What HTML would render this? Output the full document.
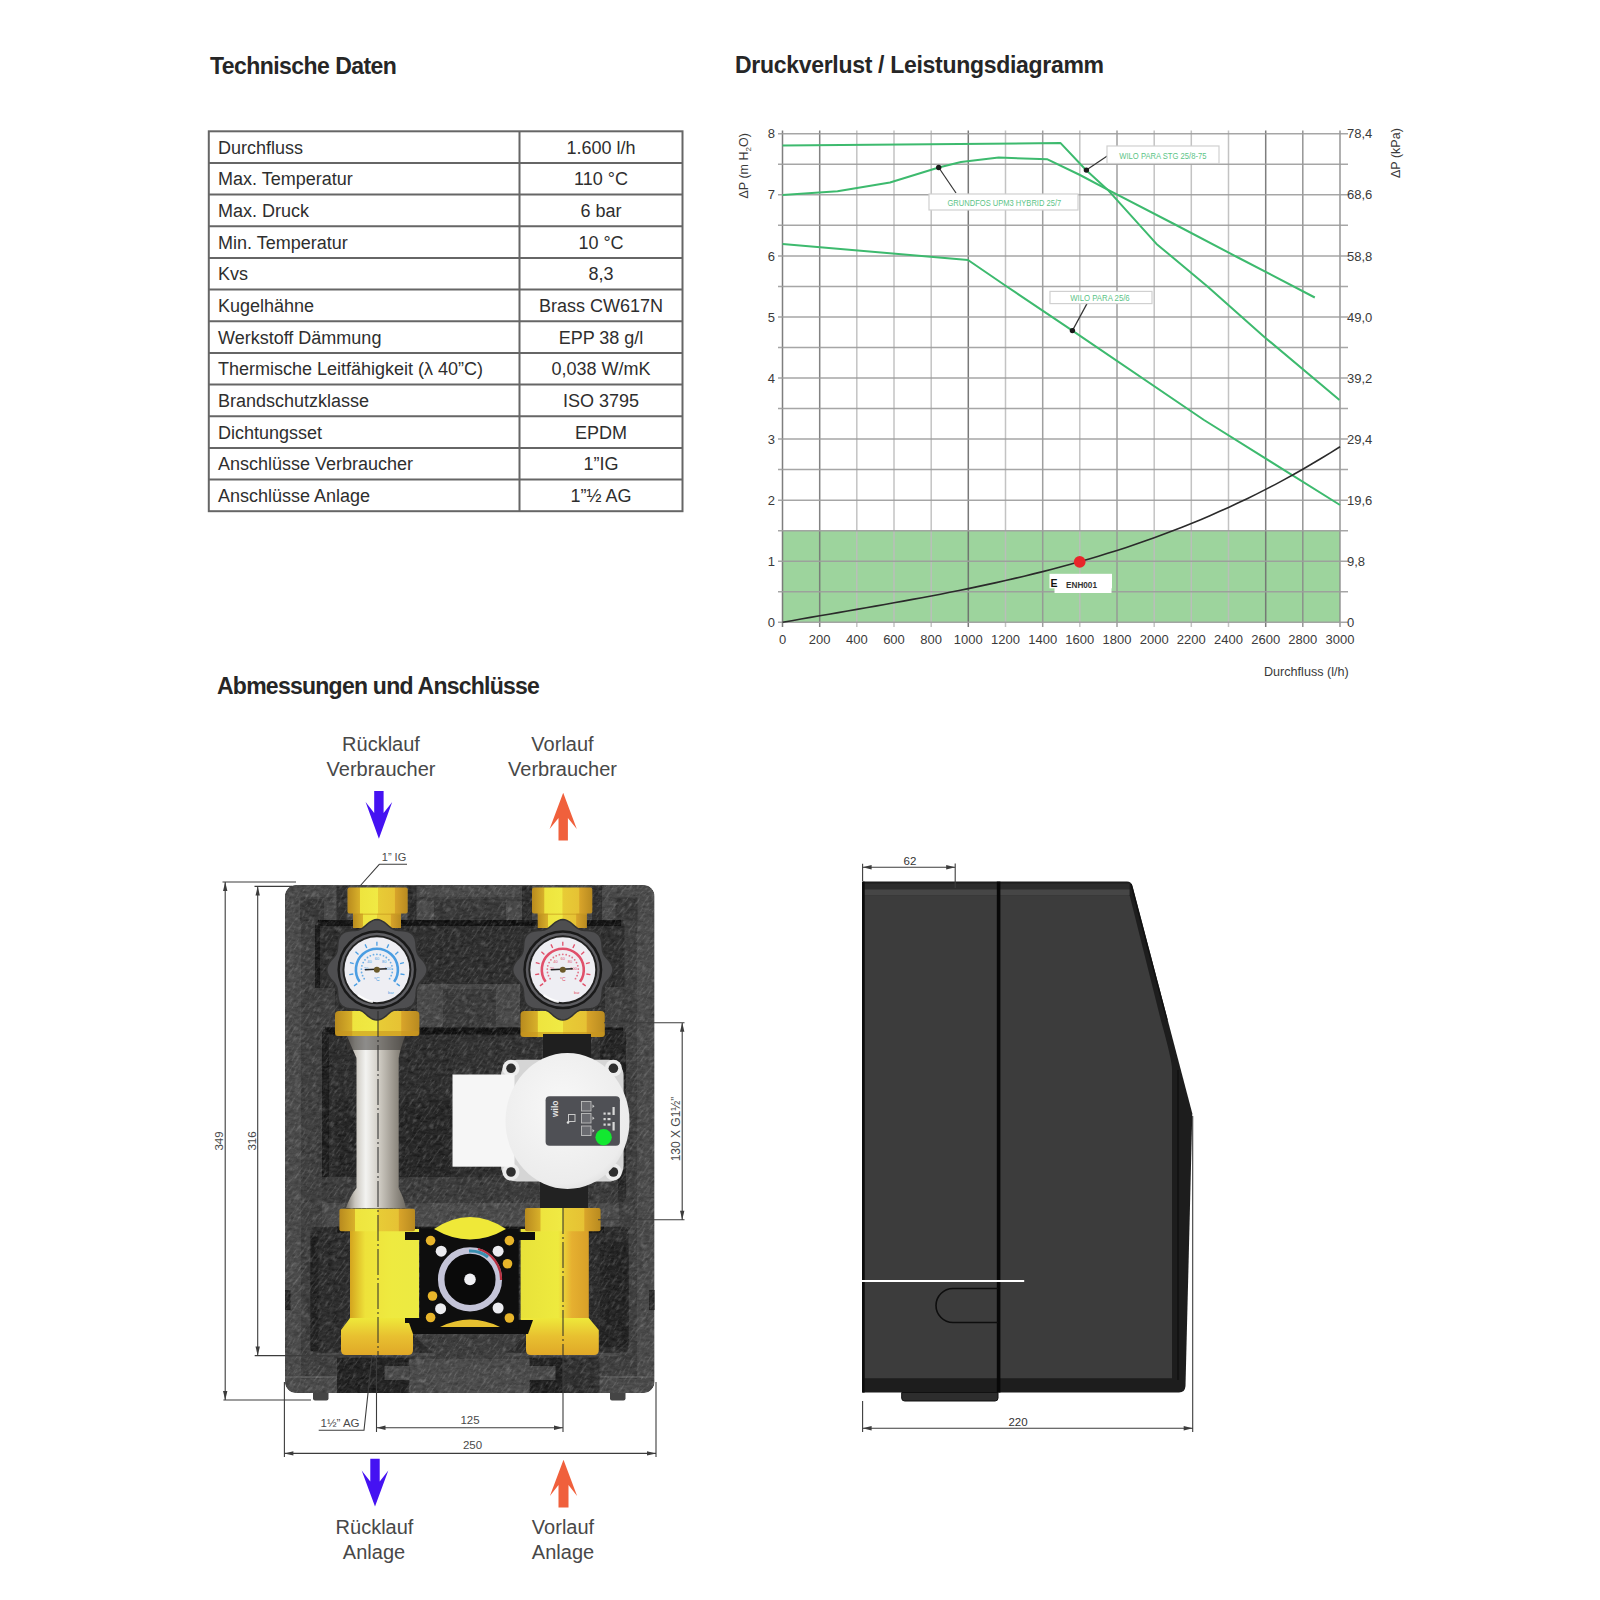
<!DOCTYPE html>
<html><head><meta charset="utf-8"><title>Technische Daten</title>
<style>
html,body{margin:0;padding:0;background:#fff;}
body{width:1600px;height:1600px;overflow:hidden;position:relative;font-family:"Liberation Sans",sans-serif;}
svg{position:absolute;left:0;top:0;}
text{font-family:"Liberation Sans",sans-serif;}
</style></head><body>
<svg width="1600" height="1600" viewBox="0 0 1600 1600">
<defs>
<filter id="foam" x="0" y="0" width="100%" height="100%" color-interpolation-filters="sRGB">
<feTurbulence type="fractalNoise" baseFrequency="0.18 0.35" numOctaves="3" seed="7" result="t"/>
<feColorMatrix in="t" type="matrix" values="0.5 0.5 0 0 0  0.5 0.5 0 0 0  0.5 0.5 0 0 0  0 0 0 0 1" result="g"/>
<feComposite in="SourceGraphic" in2="g" operator="arithmetic" k1="0" k2="1" k3="0.22" k4="-0.11" result="b"/>
<feComposite in="b" in2="SourceGraphic" operator="in"/>
</filter>
</defs>

<g fill="#262626" font-weight="bold" font-size="23">
<text x="210" y="74" letter-spacing="-0.55">Technische Daten</text>
<text x="735" y="72.5" letter-spacing="-0.3">Druckverlust / Leistungsdiagramm</text>
<text x="217" y="694" letter-spacing="-0.75">Abmessungen und Anschlüsse</text>
</g>
<g stroke="#666" stroke-width="2" fill="none">
<rect x="208.8" y="131.3" width="473.7" height="379.9"/>
<line x1="519.5" y1="131.3" x2="519.5" y2="511.2"/>
<line x1="208.8" y1="163.0" x2="682.5" y2="163.0"/>
<line x1="208.8" y1="194.6" x2="682.5" y2="194.6"/>
<line x1="208.8" y1="226.3" x2="682.5" y2="226.3"/>
<line x1="208.8" y1="257.9" x2="682.5" y2="257.9"/>
<line x1="208.8" y1="289.6" x2="682.5" y2="289.6"/>
<line x1="208.8" y1="321.2" x2="682.5" y2="321.2"/>
<line x1="208.8" y1="352.9" x2="682.5" y2="352.9"/>
<line x1="208.8" y1="384.6" x2="682.5" y2="384.6"/>
<line x1="208.8" y1="416.2" x2="682.5" y2="416.2"/>
<line x1="208.8" y1="447.9" x2="682.5" y2="447.9"/>
<line x1="208.8" y1="479.5" x2="682.5" y2="479.5"/>
</g>
<g fill="#2e2e2e" font-size="18">
<text x="218" y="153.7">Durchfluss</text>
<text x="601" y="153.7" text-anchor="middle">1.600 l/h</text>
<text x="218" y="185.4">Max. Temperatur</text>
<text x="601" y="185.4" text-anchor="middle">110 °C</text>
<text x="218" y="217.0">Max. Druck</text>
<text x="601" y="217.0" text-anchor="middle">6 bar</text>
<text x="218" y="248.7">Min. Temperatur</text>
<text x="601" y="248.7" text-anchor="middle">10 °C</text>
<text x="218" y="280.3">Kvs</text>
<text x="601" y="280.3" text-anchor="middle">8,3</text>
<text x="218" y="312.0">Kugelhähne</text>
<text x="601" y="312.0" text-anchor="middle">Brass CW617N</text>
<text x="218" y="343.6">Werkstoff Dämmung</text>
<text x="601" y="343.6" text-anchor="middle">EPP 38 g/l</text>
<text x="218" y="375.3">Thermische Leitfähigkeit (λ 40”C)</text>
<text x="601" y="375.3" text-anchor="middle">0,038 W/mK</text>
<text x="218" y="407.0">Brandschutzklasse</text>
<text x="601" y="407.0" text-anchor="middle">ISO 3795</text>
<text x="218" y="438.6">Dichtungsset</text>
<text x="601" y="438.6" text-anchor="middle">EPDM</text>
<text x="218" y="470.3">Anschlüsse Verbraucher</text>
<text x="601" y="470.3" text-anchor="middle">1”IG</text>
<text x="218" y="501.9">Anschlüsse Anlage</text>
<text x="601" y="501.9" text-anchor="middle">1”½ AG</text>
</g>
<rect x="782.5" y="530.7" width="557.5" height="91.6" fill="#9dd49d"/>
<g stroke-width="1.5">
<line x1="782.5" y1="130.5" x2="782.5" y2="627" stroke="#707070" stroke-opacity="0.9"/>
<line x1="819.7" y1="130.5" x2="819.7" y2="627" stroke="#757575" stroke-opacity="0.9"/>
<line x1="856.8" y1="130.5" x2="856.8" y2="627" stroke="#bcbcbc" stroke-opacity="0.9"/>
<line x1="894.0" y1="130.5" x2="894.0" y2="627" stroke="#bcbcbc" stroke-opacity="0.9"/>
<line x1="931.2" y1="130.5" x2="931.2" y2="627" stroke="#bcbcbc" stroke-opacity="0.9"/>
<line x1="968.3" y1="130.5" x2="968.3" y2="627" stroke="#6a6a6a" stroke-opacity="0.9"/>
<line x1="1005.5" y1="130.5" x2="1005.5" y2="627" stroke="#bcbcbc" stroke-opacity="0.9"/>
<line x1="1042.7" y1="130.5" x2="1042.7" y2="627" stroke="#959595" stroke-opacity="0.9"/>
<line x1="1079.8" y1="130.5" x2="1079.8" y2="627" stroke="#bcbcbc" stroke-opacity="0.9"/>
<line x1="1117.0" y1="130.5" x2="1117.0" y2="627" stroke="#959595" stroke-opacity="0.9"/>
<line x1="1154.2" y1="130.5" x2="1154.2" y2="627" stroke="#bcbcbc" stroke-opacity="0.9"/>
<line x1="1191.3" y1="130.5" x2="1191.3" y2="627" stroke="#bcbcbc" stroke-opacity="0.9"/>
<line x1="1228.5" y1="130.5" x2="1228.5" y2="627" stroke="#bcbcbc" stroke-opacity="0.9"/>
<line x1="1265.7" y1="130.5" x2="1265.7" y2="627" stroke="#707070" stroke-opacity="0.9"/>
<line x1="1302.8" y1="130.5" x2="1302.8" y2="627" stroke="#8a8a8a" stroke-opacity="0.9"/>
<line x1="1340.0" y1="130.5" x2="1340.0" y2="627" stroke="#8a8a8a" stroke-opacity="0.9"/>
<line x1="778" y1="622.3" x2="1348" y2="622.3" stroke="#9c9c9c" stroke-opacity="0.9"/>
<line x1="778" y1="591.8" x2="1348" y2="591.8" stroke="#9c9c9c" stroke-opacity="0.9"/>
<line x1="778" y1="561.2" x2="1348" y2="561.2" stroke="#9c9c9c" stroke-opacity="0.9"/>
<line x1="778" y1="530.7" x2="1348" y2="530.7" stroke="#9c9c9c" stroke-opacity="0.9"/>
<line x1="778" y1="500.2" x2="1348" y2="500.2" stroke="#9c9c9c" stroke-opacity="0.9"/>
<line x1="778" y1="469.6" x2="1348" y2="469.6" stroke="#9c9c9c" stroke-opacity="0.9"/>
<line x1="778" y1="439.1" x2="1348" y2="439.1" stroke="#9c9c9c" stroke-opacity="0.9"/>
<line x1="778" y1="408.6" x2="1348" y2="408.6" stroke="#9c9c9c" stroke-opacity="0.9"/>
<line x1="778" y1="378.0" x2="1348" y2="378.0" stroke="#9c9c9c" stroke-opacity="0.9"/>
<line x1="778" y1="347.5" x2="1348" y2="347.5" stroke="#9c9c9c" stroke-opacity="0.9"/>
<line x1="778" y1="316.9" x2="1348" y2="316.9" stroke="#9c9c9c" stroke-opacity="0.9"/>
<line x1="778" y1="286.4" x2="1348" y2="286.4" stroke="#9c9c9c" stroke-opacity="0.9"/>
<line x1="778" y1="255.9" x2="1348" y2="255.9" stroke="#9c9c9c" stroke-opacity="0.9"/>
<line x1="778" y1="225.3" x2="1348" y2="225.3" stroke="#9c9c9c" stroke-opacity="0.9"/>
<line x1="778" y1="194.8" x2="1348" y2="194.8" stroke="#9c9c9c" stroke-opacity="0.9"/>
<line x1="778" y1="164.3" x2="1348" y2="164.3" stroke="#9c9c9c" stroke-opacity="0.9"/>
<line x1="778" y1="133.7" x2="1348" y2="133.7" stroke="#9c9c9c" stroke-opacity="0.9"/>
</g>
<g fill="#3a3a3a" font-size="13">
<text x="775" y="626.9" text-anchor="end">0</text>
<text x="775" y="565.8" text-anchor="end">1</text>
<text x="775" y="504.8" text-anchor="end">2</text>
<text x="775" y="443.7" text-anchor="end">3</text>
<text x="775" y="382.6" text-anchor="end">4</text>
<text x="775" y="321.5" text-anchor="end">5</text>
<text x="775" y="260.5" text-anchor="end">6</text>
<text x="775" y="199.4" text-anchor="end">7</text>
<text x="775" y="138.3" text-anchor="end">8</text>
<text x="1347" y="626.9">0</text>
<text x="1347" y="565.8">9,8</text>
<text x="1347" y="504.8">19,6</text>
<text x="1347" y="443.7">29,4</text>
<text x="1347" y="382.6">39,2</text>
<text x="1347" y="321.5">49,0</text>
<text x="1347" y="260.5">58,8</text>
<text x="1347" y="199.4">68,6</text>
<text x="1347" y="138.3">78,4</text>
<text x="782.5" y="644" text-anchor="middle">0</text>
<text x="819.7" y="644" text-anchor="middle">200</text>
<text x="856.8" y="644" text-anchor="middle">400</text>
<text x="894.0" y="644" text-anchor="middle">600</text>
<text x="931.2" y="644" text-anchor="middle">800</text>
<text x="968.3" y="644" text-anchor="middle">1000</text>
<text x="1005.5" y="644" text-anchor="middle">1200</text>
<text x="1042.7" y="644" text-anchor="middle">1400</text>
<text x="1079.8" y="644" text-anchor="middle">1600</text>
<text x="1117.0" y="644" text-anchor="middle">1800</text>
<text x="1154.2" y="644" text-anchor="middle">2000</text>
<text x="1191.3" y="644" text-anchor="middle">2200</text>
<text x="1228.5" y="644" text-anchor="middle">2400</text>
<text x="1265.7" y="644" text-anchor="middle">2600</text>
<text x="1302.8" y="644" text-anchor="middle">2800</text>
<text x="1340.0" y="644" text-anchor="middle">3000</text>
<text x="1264" y="675.5" font-size="12.6">Durchfluss  (l/h)</text>
<text transform="translate(748,198.5) rotate(-90)" font-size="12.5">ΔP (m H<tspan font-size="8" dy="3">2</tspan><tspan dy="-3">O)</tspan></text>
<text transform="translate(1399.5,178) rotate(-90)" font-size="12.5">ΔP (kPa)</text>
</g>
<path d="M782.5,145.5 L1060.6,143.1 L1086.0,170.0 L1107.6,189.7 L1156.5,243.9 L1207.5,286.4 L1264.9,337.4 L1339.5,400.0" fill="none" stroke="#3dba6e" stroke-width="2.0" stroke-linejoin="round"/>
<path d="M782.5,195.0 L837.5,191.2 L890.0,182.5 L938.7,167.5 L961.0,162.0 L998.7,157.6 L1047.5,159.3 L1080.0,175.0 L1107.6,189.7 L1176.0,225.0 L1237.0,257.0 L1314.8,297.5" fill="none" stroke="#3dba6e" stroke-width="2.0" stroke-linejoin="round"/>
<path d="M782.5,244.0 L968.0,260.0 L1006.0,286.0 L1072.4,330.6 L1204.0,420.0 L1340.0,505.0" fill="none" stroke="#3dba6e" stroke-width="2.0" stroke-linejoin="round"/>
<path d="M782.5,622.3 L791.8,620.7 L801.1,619.0 L810.4,617.4 L819.7,615.8 L829.0,614.2 L838.2,612.6 L847.5,611.0 L856.8,609.4 L866.1,607.8 L875.4,606.1 L884.7,604.5 L894.0,602.8 L903.3,601.1 L912.6,599.4 L921.9,597.7 L931.2,596.0 L940.5,594.2 L949.8,592.3 L959.0,590.5 L968.3,588.6 L977.6,586.6 L986.9,584.6 L996.2,582.6 L1005.5,580.5 L1014.8,578.4 L1024.1,576.2 L1033.4,573.9 L1042.7,571.6 L1052.0,569.2 L1061.2,566.7 L1070.5,564.2 L1079.8,561.6 L1089.1,558.9 L1098.4,556.2 L1107.7,553.3 L1117.0,550.4 L1126.3,547.4 L1135.6,544.3 L1144.9,541.0 L1154.2,537.7 L1163.5,534.3 L1172.8,530.8 L1182.0,527.2 L1191.3,523.5 L1200.6,519.7 L1209.9,515.7 L1219.2,511.6 L1228.5,507.4 L1237.8,503.1 L1247.1,498.7 L1256.4,494.1 L1265.7,489.4 L1275.0,484.6 L1284.2,479.6 L1293.5,474.5 L1302.8,469.2 L1312.1,463.8 L1321.4,458.3 L1330.7,452.6 L1340.0,446.7" fill="none" stroke="#2a2a2a" stroke-width="1.6" stroke-linejoin="round"/>
<line x1="938.7" y1="167.5" x2="956" y2="193" stroke="#333" stroke-width="1.2"/>
<circle cx="938.7" cy="167.5" r="2.7" fill="#1a1a1a"/>
<rect x="929" y="194" width="149" height="16" fill="#fff" stroke="#d0d0d0" stroke-width="1.2"/>
<text x="947.5" y="205.9" font-size="9.2" fill="#5cc487" textLength="113.7" lengthAdjust="spacingAndGlyphs">GRUNDFOS UPM3 HYBRID 25/7</text>
<line x1="1086.4" y1="170.1" x2="1107.6" y2="155.7" stroke="#333" stroke-width="1.2"/>
<circle cx="1086.4" cy="170.1" r="2.7" fill="#1a1a1a"/>
<rect x="1107" y="146" width="112" height="17.5" fill="#fff" stroke="#d0d0d0" stroke-width="1.2"/>
<text x="1119.3" y="158.7" font-size="9.2" fill="#5cc487" textLength="87.1" lengthAdjust="spacingAndGlyphs">WILO PARA STG 25/8-75</text>
<line x1="1072.4" y1="330.6" x2="1087" y2="303.6" stroke="#333" stroke-width="1.2"/>
<circle cx="1072.4" cy="330.6" r="2.7" fill="#1a1a1a"/>
<rect x="1050" y="291.4" width="102" height="12.200000000000045" fill="#fff" stroke="#d0d0d0" stroke-width="1.2"/>
<text x="1070.2" y="300.9" font-size="9.2" fill="#5cc487" textLength="59.5" lengthAdjust="spacingAndGlyphs">WILO PARA 25/6</text>
<rect x="1049.5" y="573.8" width="62.5" height="14.5" fill="#fff"/>
<rect x="1054.5" y="580" width="57" height="13" fill="#fff"/>
<text x="1081.5" y="588.2" font-size="8.2" fill="#333" text-anchor="middle" font-weight="bold">ENH001</text>
<text x="1050.5" y="587" font-size="10.5" fill="#111" font-weight="bold">E</text>
<circle cx="1079.7" cy="561.9" r="5.9" fill="#e8262a"/>
<g fill="#484848" font-size="20" text-anchor="middle">
<text x="381" y="750.5">Rücklauf</text><text x="381" y="775.5">Verbraucher</text>
<text x="562.5" y="750.5">Vorlauf</text><text x="562.5" y="775.5">Verbraucher</text>
<text x="374.5" y="1533.5">Rücklauf</text><text x="374" y="1558.5">Anlage</text>
<text x="563" y="1533.5">Vorlauf</text><text x="563" y="1558.5">Anlage</text>
</g>
<path d="M374.2,791 L383.59999999999997,791 L383.59999999999997,813 L392.2,802 L378.9,838.7 L365.59999999999997,802 L374.2,813 Z" fill="#4512f2"/>
<path d="M563.2,792.8 L576.8000000000001,829 L567.9000000000001,818 L567.9000000000001,840.6 L558.5,840.6 L558.5,818 L549.6,829 Z" fill="#f0603c"/>
<path d="M370.3,1458.7 L379.7,1458.7 L379.7,1481.5 L388.3,1470.5 L375,1506.6 L361.7,1470.5 L370.3,1481.5 Z" fill="#4512f2"/>
<path d="M563.5,1459.7 L577.1,1496 L568.5,1485 L568.5,1507.5 L558.5,1507.5 L558.5,1485 L549.9,1496 Z" fill="#f0603c"/>
<rect x="313" y="1388" width="15.5" height="12.5" rx="2" fill="#454545"/>
<rect x="610" y="1388" width="15.5" height="12.5" rx="2" fill="#454545"/>
<g filter="url(#foam)">
<rect x="285" y="885" width="369.5" height="508" rx="11" fill="#494949"/>
<rect x="301" y="897" width="21" height="482" fill="#3e3e3e"/>
<rect x="619" y="897" width="18" height="482" fill="#3e3e3e"/>
<rect x="301" y="1356" width="336" height="21" fill="#3e3e3e"/>
<rect x="301" y="897" width="336" height="4" fill="#3e3e3e"/>
<rect x="300" y="899" width="24" height="22" fill="#383838"/>
<rect x="434" y="899" width="72" height="22" fill="#383838"/>
<rect x="615.5" y="898" width="22" height="23" fill="#383838"/>
<rect x="336.5" y="886" width="11" height="35" fill="#303030"/>
<rect x="407.5" y="886" width="9" height="35" fill="#2c2c2c"/>
<rect x="522" y="886" width="10" height="35" fill="#2c2c2c"/>
<rect x="592" y="886" width="10" height="35" fill="#303030"/>
<rect x="315" y="920" width="309.5" height="107" rx="6" fill="#2e2e2e"/>
<rect x="318" y="920" width="303" height="6" fill="#141414"/>
<rect x="315" y="925" width="5" height="63" fill="#1c1c1c"/>
<rect x="314" y="988" width="21" height="40" fill="#3e3e3e"/>
<rect x="605" y="987" width="20" height="41" fill="#3e3e3e"/>
<rect x="417" y="984" width="103" height="43" fill="#474747"/>
<rect x="443" y="989" width="53" height="38" fill="#3a3a3a"/>
<rect x="322" y="1027.5" width="304" height="175" rx="6" fill="#2d2d2d"/>
<rect x="325" y="1027.5" width="298" height="7" fill="#131313"/>
<rect x="322" y="1032" width="7" height="166" fill="#1e1e1e"/>
<rect x="600" y="1030" width="26" height="160" rx="6" fill="#252525"/>
<rect x="335.5" y="1100.5" width="115.5" height="76.5" fill="#262626"/>
<rect x="322" y="1177" width="296" height="25" fill="#3a3a3a"/>
<rect x="455" y="1036" width="145" height="64" fill="#313131"/>
<rect x="310.5" y="1226.7" width="318" height="126" rx="6" fill="#2c2c2c"/>
<rect x="337" y="1226.7" width="267" height="6" fill="#171717"/>
<rect x="310.5" y="1233" width="8" height="118" fill="#222"/>
<rect x="600" y="1242" width="28.6" height="105" rx="5" fill="#242424"/>
<path d="M407,1330 L532,1330 L501,1358 L439,1358 Z" fill="#3c3c3c"/>
<rect x="285" y="1376" width="52" height="2" fill="#575757"/>
<rect x="600" y="1376" width="54" height="2" fill="#575757"/>
<rect x="337" y="1357.7" width="72.5" height="35.3" fill="#232323"/>
<rect x="529.4" y="1357.7" width="33.6" height="35.3" fill="#212121"/>
<rect x="563" y="1357.7" width="36.5" height="35.3" fill="#303030"/>
<rect x="409.5" y="1359" width="120" height="33" fill="#4a4a4a"/>
<rect x="384.5" y="1366" width="25" height="14" fill="#484848"/>
<rect x="529" y="1366" width="26.5" height="14" fill="#484848"/>
<rect x="285" y="1290" width="5.5" height="20" fill="#262626"/>
<rect x="649" y="1290" width="5.5" height="20" fill="#262626"/>
</g>
<defs><clipPath id="boxclip"><rect x="285" y="885" width="369.5" height="508" rx="11"/></clipPath><filter id="streak" x="0" y="0" width="100%" height="100%" color-interpolation-filters="sRGB"><feTurbulence type="fractalNoise" baseFrequency="0.14 0.5" numOctaves="2" seed="11" result="t"/><feColorMatrix in="t" type="matrix" values="0 0 0 0 1  0 0 0 0 1  0 0 0 0 1  1.6 0 0 0 -0.78"/></filter></defs>
<g clip-path="url(#boxclip)"><g transform="rotate(-55 470 1140)"><rect x="100" y="850" width="740" height="580" filter="url(#streak)" opacity="0.32"/></g></g>
<defs>
<linearGradient id="brassH" x1="0" y1="0" x2="1" y2="0">
<stop offset="0" stop-color="#b88a1e"/><stop offset="0.2" stop-color="#d8b02a"/><stop offset="0.21" stop-color="#eee43e"/>
<stop offset="0.5" stop-color="#f0ea44"/><stop offset="0.51" stop-color="#e8cc36"/><stop offset="0.78" stop-color="#e6c234"/>
<stop offset="0.79" stop-color="#d8a42a"/><stop offset="1" stop-color="#b88a20"/></linearGradient>
<linearGradient id="brassBody" x1="0" y1="0" x2="1" y2="0">
<stop offset="0" stop-color="#d4a41e"/><stop offset="0.22" stop-color="#eee23a"/><stop offset="0.6" stop-color="#eeea40"/>
<stop offset="1" stop-color="#ecea42"/></linearGradient>
<linearGradient id="brassBodyR" x1="0" y1="0" x2="1" y2="0">
<stop offset="0" stop-color="#e8e23a"/><stop offset="0.55" stop-color="#eeea3e"/>
<stop offset="0.75" stop-color="#e6b030"/><stop offset="1" stop-color="#d8a028"/></linearGradient>
<linearGradient id="brassFoot" x1="0" y1="0" x2="0" y2="1">
<stop offset="0" stop-color="#eee83a"/><stop offset="0.5" stop-color="#e8c030"/><stop offset="1" stop-color="#e0a828"/></linearGradient>
<linearGradient id="pipe" x1="0" y1="0" x2="1" y2="0">
<stop offset="0" stop-color="#77726a"/><stop offset="0.15" stop-color="#c9c5bd"/><stop offset="0.33" stop-color="#f3f3f1"/>
<stop offset="0.55" stop-color="#d0ccc4"/><stop offset="0.8" stop-color="#9a958c"/><stop offset="1" stop-color="#6e6a62"/></linearGradient>
<radialGradient id="motor" cx="0.45" cy="0.4" r="0.7">
<stop offset="0" stop-color="#f8f8f8"/><stop offset="0.8" stop-color="#ececec"/><stop offset="1" stop-color="#d6d6d6"/></radialGradient>
</defs>
<rect x="353" y="911" width="48" height="17" fill="url(#brassH)"/>
<rect x="353" y="911" width="48" height="4" fill="#c89a20" opacity="0.5"/>
<rect x="347.5" y="887.6" width="60.19999999999999" height="25.8" rx="2" fill="url(#brassH)"/>
<rect x="537.7" y="911" width="49.19999999999993" height="17" fill="url(#brassH)"/>
<rect x="537.7" y="911" width="49.19999999999993" height="4" fill="#c89a20" opacity="0.5"/>
<rect x="532" y="887.6" width="60.299999999999955" height="25.8" rx="2" fill="url(#brassH)"/>
<rect x="335" y="1011" width="84.39999999999998" height="25" rx="4" fill="url(#brassH)"/>
<rect x="335" y="1031" width="84.39999999999998" height="5" rx="2" fill="#c8961e" opacity="0.6"/>
<rect x="520.5" y="1011" width="84.29999999999995" height="25.90000000000009" rx="4" fill="url(#brassH)"/>
<rect x="520.5" y="1031.9" width="84.29999999999995" height="5" rx="2" fill="#c8961e" opacity="0.6"/>
<path d="M427.1,969.8 L426.9,971.8 L426.3,973.7 L425.4,975.5 L424.3,977.3 L423.0,979.0 L421.6,980.5 L420.3,982.0 L419.1,983.5 L418.1,985.0 L417.4,986.6 L416.8,988.2 L416.5,990.0 L416.3,991.8 L416.1,993.8 L416.0,995.9 L415.7,998.0 L415.3,1000.1 L414.6,1002.0 L413.6,1003.8 L412.4,1005.3 L410.9,1006.5 L409.1,1007.5 L407.2,1008.2 L405.1,1008.6 L403.0,1008.9 L400.9,1009.0 L398.9,1009.2 L397.1,1009.4 L395.3,1009.7 L393.7,1010.3 L392.1,1011.0 L390.6,1012.0 L389.1,1013.2 L387.6,1014.5 L386.1,1015.9 L384.4,1017.2 L382.6,1018.3 L380.8,1019.2 L378.9,1019.8 L376.9,1020.0 L374.9,1019.8 L373.0,1019.2 L371.2,1018.3 L369.4,1017.2 L367.7,1015.9 L366.2,1014.5 L364.7,1013.2 L363.2,1012.0 L361.7,1011.0 L360.1,1010.3 L358.5,1009.7 L356.7,1009.4 L354.9,1009.2 L352.9,1009.0 L350.8,1008.9 L348.7,1008.6 L346.6,1008.2 L344.7,1007.5 L342.9,1006.5 L341.4,1005.3 L340.2,1003.8 L339.2,1002.0 L338.5,1000.1 L338.1,998.0 L337.8,995.9 L337.7,993.8 L337.5,991.8 L337.3,990.0 L337.0,988.2 L336.4,986.6 L335.7,985.0 L334.7,983.5 L333.5,982.0 L332.2,980.5 L330.8,979.0 L329.5,977.3 L328.4,975.5 L327.5,973.7 L326.9,971.8 L326.7,969.8 L326.9,967.8 L327.5,965.9 L328.4,964.1 L329.5,962.3 L330.8,960.6 L332.2,959.1 L333.5,957.6 L334.7,956.1 L335.7,954.6 L336.4,953.0 L337.0,951.4 L337.3,949.6 L337.5,947.8 L337.7,945.8 L337.8,943.7 L338.1,941.6 L338.5,939.5 L339.2,937.6 L340.2,935.8 L341.4,934.3 L342.9,933.1 L344.7,932.1 L346.6,931.4 L348.7,931.0 L350.8,930.7 L352.9,930.6 L354.9,930.4 L356.7,930.2 L358.5,929.9 L360.1,929.3 L361.7,928.6 L363.2,927.6 L364.7,926.4 L366.2,925.1 L367.7,923.7 L369.4,922.4 L371.2,921.3 L373.0,920.4 L374.9,919.8 L376.9,919.6 L378.9,919.8 L380.8,920.4 L382.6,921.3 L384.4,922.4 L386.1,923.7 L387.6,925.1 L389.1,926.4 L390.6,927.6 L392.1,928.6 L393.7,929.3 L395.3,929.9 L397.1,930.2 L398.9,930.4 L400.9,930.6 L403.0,930.7 L405.1,931.0 L407.2,931.4 L409.1,932.1 L410.9,933.1 L412.4,934.3 L413.6,935.8 L414.6,937.6 L415.3,939.5 L415.7,941.6 L416.0,943.7 L416.1,945.8 L416.3,947.8 L416.5,949.6 L416.8,951.4 L417.4,953.0 L418.1,954.6 L419.1,956.1 L420.3,957.6 L421.6,959.1 L423.0,960.6 L424.3,962.3 L425.4,964.1 L426.3,965.9 L426.9,967.8 L427.1,969.8Z" fill="#4e4e50" stroke="#333" stroke-width="1.5"/>
<circle cx="376.9" cy="969.8" r="39.5" fill="#1a1a1a"/>
<circle cx="376.9" cy="969.8" r="37" fill="#5e5e62"/>
<circle cx="376.9" cy="969.8" r="34.5" fill="#202020"/>
<circle cx="376.9" cy="969.8" r="32.5" fill="#eeeef3"/>
<path d="M359.7,981.8 A21,21 0 1 1 394.1,981.8" fill="none" stroke="#4a9de2" stroke-width="2.6"/>
<line x1="357.2" y1="983.6" x2="354.0" y2="985.9" stroke="#4a9de2" stroke-width="1.3"/>
<line x1="353.3" y1="974.0" x2="349.3" y2="974.7" stroke="#4a9de2" stroke-width="1.3"/>
<line x1="353.7" y1="963.6" x2="349.9" y2="962.6" stroke="#4a9de2" stroke-width="1.3"/>
<line x1="358.5" y1="954.4" x2="355.5" y2="951.8" stroke="#4a9de2" stroke-width="1.3"/>
<line x1="366.8" y1="948.0" x2="365.1" y2="944.4" stroke="#4a9de2" stroke-width="1.3"/>
<line x1="376.9" y1="945.8" x2="376.9" y2="941.8" stroke="#4a9de2" stroke-width="1.3"/>
<line x1="387.0" y1="948.0" x2="388.7" y2="944.4" stroke="#4a9de2" stroke-width="1.3"/>
<line x1="395.3" y1="954.4" x2="398.3" y2="951.8" stroke="#4a9de2" stroke-width="1.3"/>
<line x1="400.1" y1="963.6" x2="403.9" y2="962.6" stroke="#4a9de2" stroke-width="1.3"/>
<line x1="400.5" y1="974.0" x2="404.5" y2="974.7" stroke="#4a9de2" stroke-width="1.3"/>
<line x1="396.6" y1="983.6" x2="399.8" y2="985.9" stroke="#4a9de2" stroke-width="1.3"/>
<circle cx="364.2" cy="978.7" r="0.9" fill="#4a9de2" opacity="0.8"/>
<circle cx="362.6" cy="975.7" r="0.9" fill="#4a9de2" opacity="0.8"/>
<circle cx="361.6" cy="972.5" r="0.9" fill="#4a9de2" opacity="0.8"/>
<circle cx="361.4" cy="969.1" r="0.9" fill="#4a9de2" opacity="0.8"/>
<circle cx="361.9" cy="965.8" r="0.9" fill="#4a9de2" opacity="0.8"/>
<circle cx="363.2" cy="962.6" r="0.9" fill="#4a9de2" opacity="0.8"/>
<circle cx="365.0" cy="959.8" r="0.9" fill="#4a9de2" opacity="0.8"/>
<circle cx="367.5" cy="957.5" r="0.9" fill="#4a9de2" opacity="0.8"/>
<circle cx="370.3" cy="955.8" r="0.9" fill="#4a9de2" opacity="0.8"/>
<circle cx="373.5" cy="954.7" r="0.9" fill="#4a9de2" opacity="0.8"/>
<circle cx="376.9" cy="954.3" r="0.9" fill="#4a9de2" opacity="0.8"/>
<circle cx="380.3" cy="954.7" r="0.9" fill="#4a9de2" opacity="0.8"/>
<circle cx="383.5" cy="955.8" r="0.9" fill="#4a9de2" opacity="0.8"/>
<circle cx="386.3" cy="957.5" r="0.9" fill="#4a9de2" opacity="0.8"/>
<circle cx="388.8" cy="959.8" r="0.9" fill="#4a9de2" opacity="0.8"/>
<circle cx="390.6" cy="962.6" r="0.9" fill="#4a9de2" opacity="0.8"/>
<circle cx="391.9" cy="965.8" r="0.9" fill="#4a9de2" opacity="0.8"/>
<circle cx="392.4" cy="969.1" r="0.9" fill="#4a9de2" opacity="0.8"/>
<circle cx="392.2" cy="972.5" r="0.9" fill="#4a9de2" opacity="0.8"/>
<circle cx="391.2" cy="975.7" r="0.9" fill="#4a9de2" opacity="0.8"/>
<circle cx="389.6" cy="978.7" r="0.9" fill="#4a9de2" opacity="0.8"/>
<text x="366.0" y="970.1" font-size="4" fill="#4a9de2" text-anchor="middle">20</text>
<text x="369.6" y="963.2" font-size="4" fill="#4a9de2" text-anchor="middle">40</text>
<text x="376.9" y="960.4" font-size="4" fill="#4a9de2" text-anchor="middle">60</text>
<text x="384.2" y="963.2" font-size="4" fill="#4a9de2" text-anchor="middle">80</text>
<text x="387.8" y="970.2" font-size="4" fill="#4a9de2" text-anchor="middle">100</text>
<text x="376.9" y="980.8" font-size="5" fill="#4a9de2" text-anchor="middle">°C</text>
<text x="390.9" y="993.8" font-size="4" fill="#4a9de2" text-anchor="middle">bar</text>
<line x1="364.9" y1="969.8" x2="386.9" y2="968.8" stroke="#222" stroke-width="1.6"/>
<circle cx="376.9" cy="969.8" r="3" fill="#6b5a2a"/>
<path d="M357.9,994.8 A32,32 0 0 0 372.9,1001.8" fill="none" stroke="#fff" stroke-width="2.2" opacity="0.85"/>
<path d="M613.0,969.8 L612.8,971.8 L612.2,973.7 L611.3,975.5 L610.2,977.3 L608.9,979.0 L607.5,980.5 L606.2,982.0 L605.0,983.5 L604.0,985.0 L603.3,986.6 L602.7,988.2 L602.4,990.0 L602.2,991.8 L602.0,993.8 L601.9,995.9 L601.6,998.0 L601.2,1000.1 L600.5,1002.0 L599.5,1003.8 L598.3,1005.3 L596.8,1006.5 L595.0,1007.5 L593.1,1008.2 L591.0,1008.6 L588.9,1008.9 L586.8,1009.0 L584.8,1009.2 L583.0,1009.4 L581.2,1009.7 L579.6,1010.3 L578.0,1011.0 L576.5,1012.0 L575.0,1013.2 L573.5,1014.5 L572.0,1015.9 L570.3,1017.2 L568.5,1018.3 L566.7,1019.2 L564.8,1019.8 L562.8,1020.0 L560.8,1019.8 L558.9,1019.2 L557.1,1018.3 L555.3,1017.2 L553.6,1015.9 L552.1,1014.5 L550.6,1013.2 L549.1,1012.0 L547.6,1011.0 L546.0,1010.3 L544.4,1009.7 L542.6,1009.4 L540.8,1009.2 L538.8,1009.0 L536.7,1008.9 L534.6,1008.6 L532.5,1008.2 L530.6,1007.5 L528.8,1006.5 L527.3,1005.3 L526.1,1003.8 L525.1,1002.0 L524.4,1000.1 L524.0,998.0 L523.7,995.9 L523.6,993.8 L523.4,991.8 L523.2,990.0 L522.9,988.2 L522.3,986.6 L521.6,985.0 L520.6,983.5 L519.4,982.0 L518.1,980.5 L516.7,979.0 L515.4,977.3 L514.3,975.5 L513.4,973.7 L512.8,971.8 L512.6,969.8 L512.8,967.8 L513.4,965.9 L514.3,964.1 L515.4,962.3 L516.7,960.6 L518.1,959.1 L519.4,957.6 L520.6,956.1 L521.6,954.6 L522.3,953.0 L522.9,951.4 L523.2,949.6 L523.4,947.8 L523.6,945.8 L523.7,943.7 L524.0,941.6 L524.4,939.5 L525.1,937.6 L526.1,935.8 L527.3,934.3 L528.8,933.1 L530.6,932.1 L532.5,931.4 L534.6,931.0 L536.7,930.7 L538.8,930.6 L540.8,930.4 L542.6,930.2 L544.4,929.9 L546.0,929.3 L547.6,928.6 L549.1,927.6 L550.6,926.4 L552.1,925.1 L553.6,923.7 L555.3,922.4 L557.1,921.3 L558.9,920.4 L560.8,919.8 L562.8,919.6 L564.8,919.8 L566.7,920.4 L568.5,921.3 L570.3,922.4 L572.0,923.7 L573.5,925.1 L575.0,926.4 L576.5,927.6 L578.0,928.6 L579.6,929.3 L581.2,929.9 L583.0,930.2 L584.8,930.4 L586.8,930.6 L588.9,930.7 L591.0,931.0 L593.1,931.4 L595.0,932.1 L596.8,933.1 L598.3,934.3 L599.5,935.8 L600.5,937.6 L601.2,939.5 L601.6,941.6 L601.9,943.7 L602.0,945.8 L602.2,947.8 L602.4,949.6 L602.7,951.4 L603.3,953.0 L604.0,954.6 L605.0,956.1 L606.2,957.6 L607.5,959.1 L608.9,960.6 L610.2,962.3 L611.3,964.1 L612.2,965.9 L612.8,967.8 L613.0,969.8Z" fill="#4e4e50" stroke="#333" stroke-width="1.5"/>
<circle cx="562.8" cy="969.8" r="39.5" fill="#1a1a1a"/>
<circle cx="562.8" cy="969.8" r="37" fill="#5e5e62"/>
<circle cx="562.8" cy="969.8" r="34.5" fill="#202020"/>
<circle cx="562.8" cy="969.8" r="32.5" fill="#eeeef3"/>
<path d="M545.6,981.8 A21,21 0 1 1 580.0,981.8" fill="none" stroke="#e0506a" stroke-width="2.6"/>
<line x1="543.1" y1="983.6" x2="539.9" y2="985.9" stroke="#e0506a" stroke-width="1.3"/>
<line x1="539.2" y1="974.0" x2="535.2" y2="974.7" stroke="#e0506a" stroke-width="1.3"/>
<line x1="539.6" y1="963.6" x2="535.8" y2="962.6" stroke="#e0506a" stroke-width="1.3"/>
<line x1="544.4" y1="954.4" x2="541.4" y2="951.8" stroke="#e0506a" stroke-width="1.3"/>
<line x1="552.7" y1="948.0" x2="551.0" y2="944.4" stroke="#e0506a" stroke-width="1.3"/>
<line x1="562.8" y1="945.8" x2="562.8" y2="941.8" stroke="#e0506a" stroke-width="1.3"/>
<line x1="572.9" y1="948.0" x2="574.6" y2="944.4" stroke="#e0506a" stroke-width="1.3"/>
<line x1="581.2" y1="954.4" x2="584.2" y2="951.8" stroke="#e0506a" stroke-width="1.3"/>
<line x1="586.0" y1="963.6" x2="589.8" y2="962.6" stroke="#e0506a" stroke-width="1.3"/>
<line x1="586.4" y1="974.0" x2="590.4" y2="974.7" stroke="#e0506a" stroke-width="1.3"/>
<line x1="582.5" y1="983.6" x2="585.7" y2="985.9" stroke="#e0506a" stroke-width="1.3"/>
<circle cx="550.1" cy="978.7" r="0.9" fill="#e0506a" opacity="0.8"/>
<circle cx="548.5" cy="975.7" r="0.9" fill="#e0506a" opacity="0.8"/>
<circle cx="547.5" cy="972.5" r="0.9" fill="#e0506a" opacity="0.8"/>
<circle cx="547.3" cy="969.1" r="0.9" fill="#e0506a" opacity="0.8"/>
<circle cx="547.8" cy="965.8" r="0.9" fill="#e0506a" opacity="0.8"/>
<circle cx="549.1" cy="962.6" r="0.9" fill="#e0506a" opacity="0.8"/>
<circle cx="550.9" cy="959.8" r="0.9" fill="#e0506a" opacity="0.8"/>
<circle cx="553.4" cy="957.5" r="0.9" fill="#e0506a" opacity="0.8"/>
<circle cx="556.2" cy="955.8" r="0.9" fill="#e0506a" opacity="0.8"/>
<circle cx="559.4" cy="954.7" r="0.9" fill="#e0506a" opacity="0.8"/>
<circle cx="562.8" cy="954.3" r="0.9" fill="#e0506a" opacity="0.8"/>
<circle cx="566.2" cy="954.7" r="0.9" fill="#e0506a" opacity="0.8"/>
<circle cx="569.4" cy="955.8" r="0.9" fill="#e0506a" opacity="0.8"/>
<circle cx="572.2" cy="957.5" r="0.9" fill="#e0506a" opacity="0.8"/>
<circle cx="574.7" cy="959.8" r="0.9" fill="#e0506a" opacity="0.8"/>
<circle cx="576.5" cy="962.6" r="0.9" fill="#e0506a" opacity="0.8"/>
<circle cx="577.8" cy="965.8" r="0.9" fill="#e0506a" opacity="0.8"/>
<circle cx="578.3" cy="969.1" r="0.9" fill="#e0506a" opacity="0.8"/>
<circle cx="578.1" cy="972.5" r="0.9" fill="#e0506a" opacity="0.8"/>
<circle cx="577.1" cy="975.7" r="0.9" fill="#e0506a" opacity="0.8"/>
<circle cx="575.5" cy="978.7" r="0.9" fill="#e0506a" opacity="0.8"/>
<text x="551.9" y="970.1" font-size="4" fill="#e0506a" text-anchor="middle">20</text>
<text x="555.5" y="963.2" font-size="4" fill="#e0506a" text-anchor="middle">40</text>
<text x="562.8" y="960.4" font-size="4" fill="#e0506a" text-anchor="middle">60</text>
<text x="570.1" y="963.2" font-size="4" fill="#e0506a" text-anchor="middle">80</text>
<text x="573.7" y="970.2" font-size="4" fill="#e0506a" text-anchor="middle">100</text>
<text x="562.8" y="980.8" font-size="5" fill="#e0506a" text-anchor="middle">°C</text>
<text x="576.8" y="993.8" font-size="4" fill="#e0506a" text-anchor="middle">bar</text>
<line x1="550.8" y1="969.8" x2="572.8" y2="968.8" stroke="#222" stroke-width="1.6"/>
<circle cx="562.8" cy="969.8" r="3" fill="#6b5a2a"/>
<path d="M543.8,994.8 A32,32 0 0 0 558.8,1001.8" fill="none" stroke="#fff" stroke-width="2.2" opacity="0.85"/>
<path d="M347,1036 L405,1036 Q400,1050 398.7,1058 L398.7,1188 Q404,1198 406,1208 L346,1208 Q350,1196 356.5,1188 L356.5,1058 Q352,1048 347,1036 Z" fill="url(#pipe)"/>
<rect x="347" y="1036" width="58" height="14" fill="#3a3836" opacity="0.55"/>
<rect x="543" y="1034" width="48" height="28" fill="#1f1f1f"/>
<rect x="540" y="1180" width="48" height="30" fill="#222"/>
<rect x="501" y="1059.7" width="122.6" height="121.9" rx="16" fill="#d5d5d5"/>
<circle cx="511" cy="1068.3" r="8.5" fill="#ececec"/><circle cx="511" cy="1068.3" r="4.8" fill="#2e2e2e"/>
<circle cx="613.4" cy="1068.3" r="8.5" fill="#ececec"/><circle cx="613.4" cy="1068.3" r="4.8" fill="#2e2e2e"/>
<circle cx="511" cy="1172" r="8.5" fill="#ececec"/><circle cx="511" cy="1172" r="4.8" fill="#2e2e2e"/>
<circle cx="613.4" cy="1172" r="8.5" fill="#ececec"/><circle cx="613.4" cy="1172" r="4.8" fill="#2e2e2e"/>
<rect x="452.5" y="1074.5" width="62" height="92.2" fill="#f6f6f6"/>
<ellipse cx="567.5" cy="1121" rx="62" ry="68" fill="url(#motor)"/>
<rect x="545.6" y="1096.2" width="74.3" height="49.5" rx="4" fill="#4f5055"/>
<text transform="translate(557.5,1117) rotate(-90)" font-size="8.5" font-weight="bold" fill="#e8e8e8">wilo</text>
<rect x="581.5" y="1101.5" width="9.5" height="9.5" fill="#6a6b70" stroke="#bdbdbd" stroke-width="0.9"/>
<path d="M592.5,1104.5 L594.5,1106.2 L592.5,1108.0 Z" fill="#d0d0d0"/>
<rect x="581.5" y="1113.5" width="9.5" height="9.5" fill="#6a6b70" stroke="#bdbdbd" stroke-width="0.9"/>
<path d="M592.5,1116.5 L594.5,1118.2 L592.5,1120.0 Z" fill="#d0d0d0"/>
<rect x="581.5" y="1126" width="9.5" height="9.5" fill="#6a6b70" stroke="#bdbdbd" stroke-width="0.9"/>
<path d="M592.5,1129 L594.5,1130.7 L592.5,1132.5 Z" fill="#d0d0d0"/>
<rect x="568.5" y="1114.5" width="6.5" height="7" fill="none" stroke="#c8c8c8" stroke-width="1"/>
<circle cx="568" cy="1122.5" r="1.3" fill="#e0e0e0"/>
<rect x="603.5" y="1112.5" width="2.2" height="2.2" fill="#d8d8d8"/><rect x="607.5" y="1112.5" width="3" height="2.2" fill="#d8d8d8"/>
<rect x="603.5" y="1118" width="2.2" height="2.2" fill="#d8d8d8"/><rect x="607.5" y="1118" width="3" height="2.2" fill="#d8d8d8"/>
<rect x="603.5" y="1123.5" width="2.2" height="2.2" fill="#d8d8d8"/><rect x="607.5" y="1123.5" width="3" height="2.2" fill="#d8d8d8"/>
<rect x="612.5" y="1107" width="2.2" height="8" fill="#d8d8d8"/><rect x="612.5" y="1122" width="2.2" height="8.5" fill="#d8d8d8"/>
<circle cx="603.6" cy="1137.2" r="8.2" fill="#12e830"/>
<rect x="350" y="1229" width="69" height="96" fill="url(#brassBody)"/>
<path d="M350,1318 L419,1318 L413,1330 L413,1350 Q413,1355 408,1355 L346,1355 Q341,1355 341,1350 L341,1330 Z" fill="url(#brassFoot)"/>
<rect x="520.6" y="1229" width="68.2" height="96" fill="url(#brassBodyR)"/>
<path d="M520.6,1318 L588.8,1318 L598.8,1330 L598.8,1350 Q598.8,1355 593.8,1355 L531,1355 Q526,1355 526,1350 L526,1330 Z" fill="url(#brassFoot)"/>
<rect x="339.4" y="1208.75" width="75.6" height="22.5" rx="2" fill="url(#brassH)"/>
<rect x="525" y="1208" width="75.6" height="23.2" rx="2" fill="url(#brassH)"/>
<path d="M408,1320 L533,1320 L528,1334 L413,1334 Z" fill="#0e0e0e"/>
<path d="M405,1232 L420,1232 L420,1228.7 L434,1228.7 Q470,1250 506,1228.7 L518.7,1228.7 L518.7,1232 L535,1232 L535,1240 L518.7,1240 L518.7,1328.7 L506,1328.7 Q470,1314 434,1328.7 L420,1328.7 L420,1323 L405,1323 L405,1318 L420,1318 L420,1240 L405,1240 Z" fill="#0e0e0e"/>
<path d="M434,1229 Q470,1205 506,1229 Q470,1250 434,1229 Z" fill="#efe838"/>
<path d="M440,1327 Q470,1312 500,1327 Z" fill="#e6c030"/>
<circle cx="430.6" cy="1240.6" r="4.8" fill="#e8b52a"/>
<circle cx="432.5" cy="1296" r="4.8" fill="#e8b52a"/>
<circle cx="430.6" cy="1317.5" r="4.8" fill="#e8b52a"/>
<circle cx="509.4" cy="1240.6" r="4.8" fill="#e8b52a"/>
<circle cx="507.5" cy="1263.75" r="4.8" fill="#e8b52a"/>
<circle cx="509.4" cy="1318" r="4.8" fill="#e8b52a"/>
<circle cx="441.2" cy="1251.2" r="5.5" fill="#ececf0"/>
<circle cx="440.6" cy="1308.7" r="5.5" fill="#ececf0"/>
<circle cx="498.1" cy="1251.2" r="5.5" fill="#ececf0"/>
<circle cx="498.1" cy="1308" r="5.5" fill="#ececf0"/>
<circle cx="470" cy="1279.4" r="28.8" fill="#0a0a0a" stroke="#c4c4d8" stroke-width="6.5"/>
<path d="M478,1249 A31,31 0 0 1 501,1280" fill="none" stroke="#b83040" stroke-width="2.2"/>
<path d="M469,1251 A28.5,28.5 0 0 1 488,1257" fill="none" stroke="#3a8fb0" stroke-width="3"/>
<circle cx="470" cy="1279.4" r="5.8" fill="#f0f0f4"/>
<g stroke="#3c3c3c" stroke-width="1.1" fill="none">
<path d="M222.5,882 L296,882 M225.2,882 L225.2,1400 M223.4,1400 L311,1400"/>
<path d="M254.5,886.4 L292,886.4 M257.7,886.4 L257.7,1355.6 M254.7,1355.6 L372,1355.6"/>
<path d="M604,1022.8 L684.5,1022.8 M682.2,1022.8 L682.2,1219.8 M598,1219.8 L684.5,1219.8"/>
<path d="M379.5,864.2 L407,864.2 M379.5,864.2 L360,886"/>
<path d="M318.7,1430.2 L364,1430.2 L372,1356"/>
<path d="M376.5,1356 L376.5,1432 M563,1356 L563,1432 M376.5,1427.8 L563,1427.8"/>
<path d="M284.4,1382 L284.4,1457 M656,1382 L656,1457 M284.4,1453.4 L656,1453.4"/>
</g>
<g stroke="#2a2a2a" stroke-width="1" stroke-dasharray="26,3,2,3">
<line x1="378" y1="1011" x2="378" y2="1356"/>
<line x1="563" y1="1208" x2="563" y2="1356"/>
</g>
<path d="M225.2,882 L223.0,891 L227.39999999999998,891 Z" fill="#3c3c3c"/>
<path d="M225.2,1400 L223.0,1391 L227.39999999999998,1391 Z" fill="#3c3c3c"/>
<path d="M257.7,886.4 L255.5,895.4 L259.9,895.4 Z" fill="#3c3c3c"/>
<path d="M257.7,1355.6 L255.5,1346.6 L259.9,1346.6 Z" fill="#3c3c3c"/>
<path d="M682.2,1022.8 L680.0,1031.8 L684.4000000000001,1031.8 Z" fill="#3c3c3c"/>
<path d="M682.2,1219.8 L680.0,1210.8 L684.4000000000001,1210.8 Z" fill="#3c3c3c"/>
<path d="M376.5,1427.8 L385.5,1425.6 L385.5,1430.0 Z" fill="#3c3c3c"/>
<path d="M563,1427.8 L554,1425.6 L554,1430.0 Z" fill="#3c3c3c"/>
<path d="M284.4,1453.4 L293.4,1451.2 L293.4,1455.6000000000001 Z" fill="#3c3c3c"/>
<path d="M656,1453.4 L647,1451.2 L647,1455.6000000000001 Z" fill="#3c3c3c"/>
<g fill="#4a4a4a" font-size="11.5">
<text transform="translate(223,1141) rotate(-90)" text-anchor="middle">349</text>
<text transform="translate(255.5,1141) rotate(-90)" text-anchor="middle">316</text>
<text transform="translate(680,1129) rotate(-90)" text-anchor="middle" font-size="12">130 X G1½”</text>
<text x="394" y="861" text-anchor="middle" font-size="11">1” IG</text>
<text x="340" y="1427" text-anchor="middle" font-size="11.5">1½” AG</text>
<text x="470" y="1424.2" text-anchor="middle">125</text>
<text x="472.5" y="1449" text-anchor="middle">250</text>
</g>
<g>
<path d="M862.6,881.6 L1127,881.6 Q1131,881.6 1132.5,886 L1192.3,1113.5 L1185.5,1386 Q1185,1392.5 1179,1392.5 L862.6,1392.5 Z" fill="#1d1d1d"/>
<path d="M864.5,896 L1129.8,896 L1160.8,1020 Q1172,1060 1172,1069 L1172,1378.3 L864.5,1378.3 Z" fill="#3c3c3c"/>
<rect x="864.5" y="883.5" width="265" height="12.5" fill="#2c2c2c"/>
<rect x="864.5" y="889.5" width="265" height="6" fill="#464646"/>
<path d="M1131,884 L1167,1020" stroke="#111" stroke-width="1.5"/>
<path d="M1178,1070 L1178,1380" stroke="#111" stroke-width="1.5"/>
<rect x="862" y="881.6" width="2.6" height="511" fill="#0c0c0c"/>
<rect x="996.8" y="881.6" width="3.6" height="511" fill="#080808"/>
<path d="M901.7,1392.5 L998,1392.5 L998,1398 Q998,1401 995,1401 L904.7,1401 Q901.7,1401 901.7,1398 Z" fill="#2d2d2d" stroke="#111" stroke-width="1"/>
<path d="M998,1288.5 L953,1288.5 A17,17 0 0 0 953,1322.5 L998,1322.5" fill="none" stroke="#0e0e0e" stroke-width="1.6"/>
<rect x="860.2" y="1280" width="164" height="2" fill="#fff"/>
</g>
<g stroke="#3c3c3c" stroke-width="1.1" fill="none">
<path d="M862.6,863.7 L862.6,881 M955.2,863.5 L955.2,888 M862.6,867.3 L955.2,867.3"/>
<path d="M862.6,1401 L862.6,1432 M1192.7,1116 L1192.7,1432 M862.6,1428.2 L1192.7,1428.2"/>
</g>
<path d="M862.6,867.3 L871.6,865.0999999999999 L871.6,869.5 Z" fill="#3c3c3c"/>
<path d="M955.2,867.3 L946.2,865.0999999999999 L946.2,869.5 Z" fill="#3c3c3c"/>
<path d="M862.6,1428.2 L871.6,1426.0 L871.6,1430.4 Z" fill="#3c3c3c"/>
<path d="M1192.7,1428.2 L1183.7,1426.0 L1183.7,1430.4 Z" fill="#3c3c3c"/>
<g fill="#333" font-size="11.5" text-anchor="middle"><text x="910" y="865">62</text><text x="1018" y="1426">220</text></g>
</svg></body></html>
